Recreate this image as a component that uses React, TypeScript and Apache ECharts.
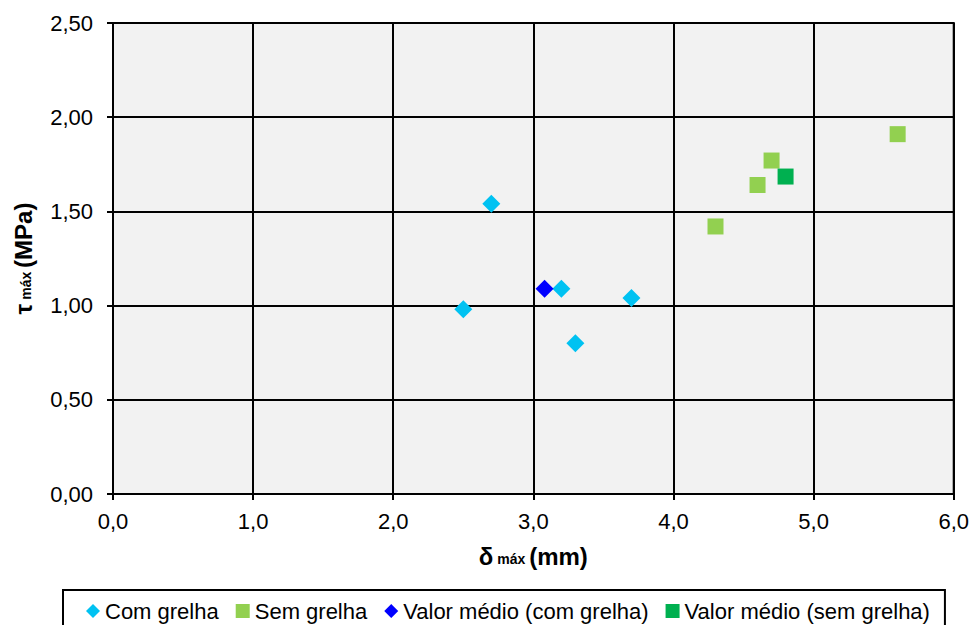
import React, { useEffect, useRef } from "react";
import * as echarts from "echarts";

const comGrelhaX = [2.5, 2.7, 3.2, 3.3, 3.7];
const comGrelhaY = [0.98, 1.54, 1.09, 0.8, 1.04];
const semGrelhaX = [4.3, 4.6, 4.7, 5.6];
const semGrelhaY = [1.42, 1.64, 1.77, 1.91];
const mediaComX = [3.08];
const mediaComY = [1.09];
const mediaSemX = [4.8];
const mediaSemY = [1.685];
const seriesNames = [
  "Com grelha",
  "Sem grelha",
  "Valor médio (com grelha)",
  "Valor médio (sem grelha)",
];

const zip = (xs: number[], ys: number[]) => xs.map((x, i) => [x, ys[i]]);

const FONT = "'Liberation Sans', Arial, sans-serif";

export default function App() {
  const ref = useRef<HTMLDivElement>(null);
  useEffect(() => {
    if (!ref.current) return;
    const chart = echarts.init(ref.current, null, { renderer: "svg" });
    const black = "#000";
    chart.setOption({
      animation: false,
      textStyle: { fontFamily: FONT },
      grid: {
        left: 113,
        top: 23,
        right: 18,
        bottom: 131,
        show: true,
        backgroundColor: "#F2F2F2",
        borderColor: black,
        borderWidth: 2,
      },
      xAxis: {
        type: "value",
        min: 0,
        max: 6,
        interval: 1,
        name: "{a|δ}{s| máx }{a|(mm)}",
        nameLocation: "middle",
        nameGap: 50,
        nameTextStyle: {
          rich: {
            a: { fontSize: 24, fontWeight: "bold", fontFamily: FONT, color: black, verticalAlign: "bottom" },
            s: { fontSize: 14, fontWeight: "bold", fontFamily: FONT, color: black, verticalAlign: "bottom", padding: [0, 0, 2, 0] },
          },
        },
        axisLine: { show: true, lineStyle: { color: black, width: 2 } },
        axisTick: { show: true, length: 6, lineStyle: { color: black, width: 2 } },
        splitLine: { show: true, lineStyle: { color: black, width: 2 } },
        axisLabel: {
          fontSize: 22,
          color: black,
          margin: 16,
          fontFamily: FONT,
          formatter: (v: number) => v.toFixed(1).replace(".", ","),
        },
      },
      yAxis: {
        type: "value",
        min: 0,
        max: 2.5,
        interval: 0.5,
        name: "{a|τ}{s| máx }{a|(MPa)}",
        nameLocation: "middle",
        nameGap: 78,
        nameRotate: 90,
        nameTextStyle: {
          rich: {
            a: { fontSize: 24, fontWeight: "bold", fontFamily: FONT, color: black, verticalAlign: "bottom" },
            s: { fontSize: 14, fontWeight: "bold", fontFamily: FONT, color: black, verticalAlign: "bottom", padding: [0, 0, 2, 0] },
          },
        },
        axisLine: { show: true, lineStyle: { color: black, width: 2 } },
        axisTick: { show: true, length: 6, lineStyle: { color: black, width: 2 } },
        splitLine: { show: true, lineStyle: { color: black, width: 2 } },
        axisLabel: {
          fontSize: 22,
          color: black,
          margin: 20,
          fontFamily: FONT,
          formatter: (v: number) => v.toFixed(2).replace(".", ","),
        },
      },
      legend: {
        left: 63,
        top: 590,
        orient: "horizontal",
        itemWidth: 14,
        itemHeight: 14,
        itemGap: 17,
        padding: [10, 15, 10, 23],
        borderColor: black,
        borderWidth: 2,
        backgroundColor: "#fff",
        textStyle: { fontSize: 22, color: black, fontFamily: FONT },
        data: seriesNames,
      },
      series: [
        {
          name: seriesNames[0],
          type: "scatter",
          symbol: "diamond",
          symbolSize: 18,
          itemStyle: { color: "#00C2F2", opacity: 1 },
          data: zip(comGrelhaX, comGrelhaY),
        },
        {
          name: seriesNames[1],
          type: "scatter",
          symbol: "rect",
          symbolSize: 16,
          itemStyle: { color: "#92D050", opacity: 1 },
          data: zip(semGrelhaX, semGrelhaY),
        },
        {
          name: seriesNames[2],
          type: "scatter",
          symbol: "diamond",
          symbolSize: 18,
          itemStyle: { color: "#0000FF", opacity: 1 },
          data: zip(mediaComX, mediaComY),
        },
        {
          name: seriesNames[3],
          type: "scatter",
          symbol: "rect",
          symbolSize: 16,
          itemStyle: { color: "#00B050", opacity: 1 },
          data: zip(mediaSemX, mediaSemY),
        },
      ],
    });
    return () => chart.dispose();
  }, []);
  return (
    <div
      ref={ref}
      style={{ position: "absolute", left: 0, top: 0, width: 972, height: 625, background: "#fff" }}
    />
  );
}
